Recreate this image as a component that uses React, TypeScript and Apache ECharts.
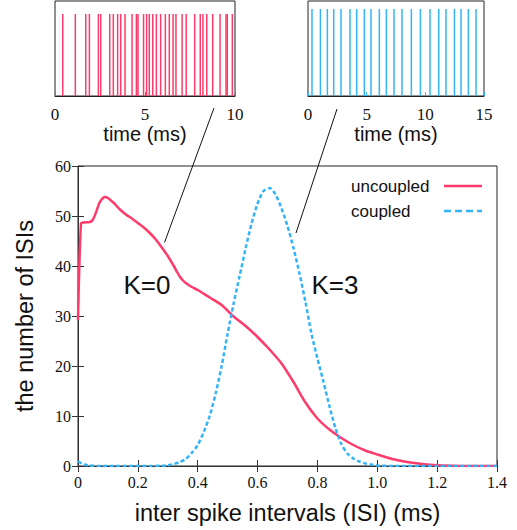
import React, { useEffect, useRef } from 'react';
import * as echarts from 'echarts';

// ISI histogram, uncoupled (K=0)
const uncoupledX = [0, 0.01, 0.02, 0.04, 0.05, 0.06, 0.07, 0.08, 0.09, 0.1, 0.11, 0.12, 0.14, 0.16, 0.18, 0.2, 0.22, 0.24, 0.26, 0.28, 0.3, 0.32, 0.33, 0.34, 0.35, 0.36, 0.38, 0.4, 0.44, 0.48, 0.52, 0.56, 0.6, 0.64, 0.68, 0.72, 0.76, 0.8, 0.84, 0.88, 0.92, 0.96, 1.0, 1.05, 1.1, 1.15, 1.2, 1.25, 1.3, 1.35, 1.4];
const uncoupledY = [29.2, 48.5, 48.7, 48.8, 49.3, 50.7, 52.4, 53.4, 53.8, 53.6, 53.1, 52.6, 51.3, 50.3, 49.5, 48.6, 47.7, 46.6, 45.3, 43.7, 42.0, 40.0, 38.9, 37.9, 37.15, 36.6, 35.8, 35.2, 33.7, 32.2, 29.9, 28.0, 25.8, 23.3, 20.5, 16.8, 12.7, 9.5, 7.3, 5.6, 4.2, 3.1, 2.3, 1.4, 0.8, 0.4, 0.15, 0.05, 0, 0, 0];

// ISI histogram, coupled (K=3)
const coupledX = [0, 0.02, 0.04, 0.08, 0.16, 0.24, 0.28, 0.3, 0.32, 0.34, 0.36, 0.38, 0.4, 0.42, 0.44, 0.46, 0.48, 0.5, 0.52, 0.54, 0.56, 0.58, 0.6, 0.62, 0.64, 0.66, 0.68, 0.7, 0.72, 0.74, 0.76, 0.78, 0.8, 0.82, 0.84, 0.86, 0.88, 0.9, 0.92, 0.94, 0.96, 0.98, 1.0, 1.05, 1.2, 1.4];
const coupledY = [0.9, 0.3, 0.1, 0, 0, 0, 0.05, 0.15, 0.4, 0.8, 1.4, 2.6, 4.2, 6.8, 10.0, 14.5, 20.0, 26.5, 32.5, 38.0, 43.5, 48.5, 52.5, 55.0, 55.6, 54.3, 51.5, 48.0, 43.6, 38.5, 32.8, 26.5, 21.5, 16.9, 12.0, 7.6, 4.4, 2.5, 1.5, 0.9, 0.5, 0.3, 0.1, 0, 0, 0];

// spike times (ms) for the inset rasters
const uncoupledSpikes = [0.43, 1.13, 1.71, 1.91, 2.41, 2.54, 3.04, 3.24, 3.48, 3.65, 3.89, 4.28, 4.52, 4.61, 4.92, 5.09, 5.24, 5.43, 5.63, 5.87, 6.13, 6.35, 6.56, 6.72, 7.06, 7.29, 7.76, 8.07, 8.22, 8.43, 8.76, 9.17, 9.5, 9.57, 9.85];
const coupledSpikes = [0.34, 1.06, 1.65, 2.19, 2.81, 3.58, 4.15, 4.8, 5.37, 6.08, 6.68, 7.33, 8.01, 8.81, 9.58, 10.4, 11.14, 11.76, 12.48, 13.04, 13.67, 14.32];
const uncoupledSpikeHeight = 0.863;
const coupledSpikeHeight = 0.916;

const mainXTicks = { min: 0, max: 1.4, interval: 0.2 };
const mainYTicks = { min: 0, max: 60, interval: 10 };
const leftInsetTicks = { min: 0, max: 10, interval: 5 };
const rightInsetTicks = { min: 0, max: 15, interval: 5 };

const RED = '#ff3b6b';
const BLUE = '#33b4f8';
const SERIF = "'Liberation Serif', 'DejaVu Serif', 'Times New Roman', serif";
const SANS = "'Liberation Sans', Arial, sans-serif";

function spikeRenderer(color: string) {
  return (params: any, api: any) => {
    const p0 = api.coord([api.value(0), 0]);
    const p1 = api.coord([api.value(0), api.value(1)]);
    return {
      type: 'line',
      shape: { x1: p0[0], y1: p0[1], x2: p1[0], y2: p1[1] },
      style: { stroke: color, lineWidth: 1.5 },
    };
  };
}

export default function App() {
  const ref = useRef<HTMLDivElement>(null);
  useEffect(() => {
    if (!ref.current) return;
    const chart = echarts.init(ref.current, undefined, { renderer: 'svg' });
    const numLabel = { fontFamily: SERIF, fontSize: 16, color: '#111' };
    const insetLabel = { fontFamily: SERIF, fontSize: 17, color: '#111', margin: 10 };
    const insetName = { fontFamily: SANS, fontSize: 20, color: '#111' };
    const noSplit = { show: false };
    chart.setOption({
      animation: false,
      backgroundColor: '#fff',
      grid: [
        { left: 78, top: 166, width: 419, height: 300, show: true, borderColor: '#222', borderWidth: 1, backgroundColor: 'transparent' },
        { left: 55, top: 1, width: 180, height: 95, show: true, borderColor: '#222', borderWidth: 1, backgroundColor: 'transparent' },
        { left: 308, top: 1, width: 176, height: 95, show: true, borderColor: '#222', borderWidth: 1, backgroundColor: 'transparent' },
      ],
      xAxis: [
        {
          type: 'value', gridIndex: 0, ...mainXTicks,
          axisLine: { show: true, lineStyle: { color: '#333' } },
          axisTick: { show: true, inside: true, length: 6, lineStyle: { color: '#333' } },
          axisLabel: { ...numLabel, margin: 8, formatter: (v: number) => (v === 0 ? '0' : v.toFixed(1)) },
          splitLine: noSplit,
          name: 'inter spike intervals (ISI) (ms)', nameLocation: 'middle', nameGap: 35,
          nameTextStyle: { fontFamily: SANS, fontSize: 23.5, color: '#111' },
        },
        {
          type: 'value', gridIndex: 0, position: 'top', ...mainXTicks,
          axisLine: { show: false },
          axisTick: { show: true, inside: true, length: 6, lineStyle: { color: '#333' } },
          axisLabel: { show: false }, splitLine: noSplit,
        },
        {
          type: 'value', gridIndex: 1, ...leftInsetTicks,
          axisLine: { show: true, lineStyle: { color: '#222' } },
          axisTick: { show: true, inside: true, length: 4, lineStyle: { color: RED } },
          axisLabel: insetLabel, splitLine: noSplit,
          name: 'time (ms)', nameLocation: 'middle', nameGap: 28, nameTextStyle: insetName,
        },
        {
          type: 'value', gridIndex: 2, ...rightInsetTicks,
          axisLine: { show: true, lineStyle: { color: '#222' } },
          axisTick: { show: true, inside: true, length: 4, lineStyle: { color: BLUE } },
          axisLabel: insetLabel, splitLine: noSplit,
          name: 'time (ms)', nameLocation: 'middle', nameGap: 28, nameTextStyle: insetName,
        },
      ],
      yAxis: [
        {
          type: 'value', gridIndex: 0, ...mainYTicks,
          axisLine: { show: true, lineStyle: { color: '#333' } },
          axisTick: { show: true, inside: true, length: 6, lineStyle: { color: '#333' } },
          axisLabel: { ...numLabel, margin: 7 },
          splitLine: noSplit,
          name: 'the number of ISIs', nameLocation: 'middle', nameGap: 41,
          nameTextStyle: { fontFamily: SANS, fontSize: 23.5, color: '#111' },
        },
        {
          type: 'value', gridIndex: 0, position: 'right', ...mainYTicks,
          axisLine: { show: false },
          axisTick: { show: true, inside: true, length: 6, lineStyle: { color: '#333' } },
          axisLabel: { show: false }, splitLine: noSplit,
        },
        { type: 'value', gridIndex: 1, min: 0, max: 1, show: false, splitLine: noSplit },
        { type: 'value', gridIndex: 2, min: 0, max: 1, show: false, splitLine: noSplit },
      ],
      series: [
        {
          type: 'line', name: 'uncoupled', xAxisIndex: 0, yAxisIndex: 0,
          data: uncoupledX.map((x, i) => [x, uncoupledY[i]]),
          showSymbol: false, symbol: 'none', smooth: 0.25,
          lineStyle: { color: RED, width: 2.5 }, z: 3,
        },
        {
          type: 'line', name: 'coupled', xAxisIndex: 0, yAxisIndex: 0,
          data: coupledX.map((x, i) => [x, coupledY[i]]),
          showSymbol: false, symbol: 'none', smooth: 0.25,
          lineStyle: { color: BLUE, width: 2.5, type: [4, 2.5] }, z: 4,
        },
        {
          type: 'custom', xAxisIndex: 2, yAxisIndex: 2,
          data: uncoupledSpikes.map((t) => [t, uncoupledSpikeHeight]),
          renderItem: spikeRenderer(RED),
        },
        {
          type: 'custom', xAxisIndex: 3, yAxisIndex: 3,
          data: coupledSpikes.map((t) => [t, coupledSpikeHeight]),
          renderItem: spikeRenderer(BLUE),
        },
      ],
      graphic: [
        { type: 'line', shape: { x1: 214, y1: 108, x2: 164.5, y2: 242.5 }, style: { stroke: '#111', lineWidth: 1 }, z: 10 },
        { type: 'line', shape: { x1: 337, y1: 109, x2: 296, y2: 233 }, style: { stroke: '#111', lineWidth: 1 }, z: 10 },
        { type: 'text', x: 147, y: 285, style: { text: 'K=0', fontFamily: SANS, fontSize: 26, fill: '#111', textAlign: 'center', textVerticalAlign: 'middle' }, z: 10 },
        { type: 'text', x: 335, y: 285, style: { text: 'K=3', fontFamily: SANS, fontSize: 26, fill: '#111', textAlign: 'center', textVerticalAlign: 'middle' }, z: 10 },
        { type: 'text', x: 351, y: 186, style: { text: 'uncoupled', fontFamily: SANS, fontSize: 17, fill: '#111', textAlign: 'left', textVerticalAlign: 'middle' }, z: 10 },
        { type: 'text', x: 351, y: 211, style: { text: 'coupled', fontFamily: SANS, fontSize: 17, fill: '#111', textAlign: 'left', textVerticalAlign: 'middle' }, z: 10 },
        { type: 'line', shape: { x1: 444, y1: 186, x2: 482, y2: 186 }, style: { stroke: RED, lineWidth: 2.5 }, z: 10 },
        { type: 'line', shape: { x1: 444, y1: 211, x2: 482, y2: 211 }, style: { stroke: BLUE, lineWidth: 2.5, lineDash: [7, 4] }, z: 10 },
      ],
    });
    return () => chart.dispose();
  }, []);
  return <div ref={ref} style={{ position: 'fixed', left: 0, top: 0, width: 517, height: 530, background: '#fff' }} />;
}
